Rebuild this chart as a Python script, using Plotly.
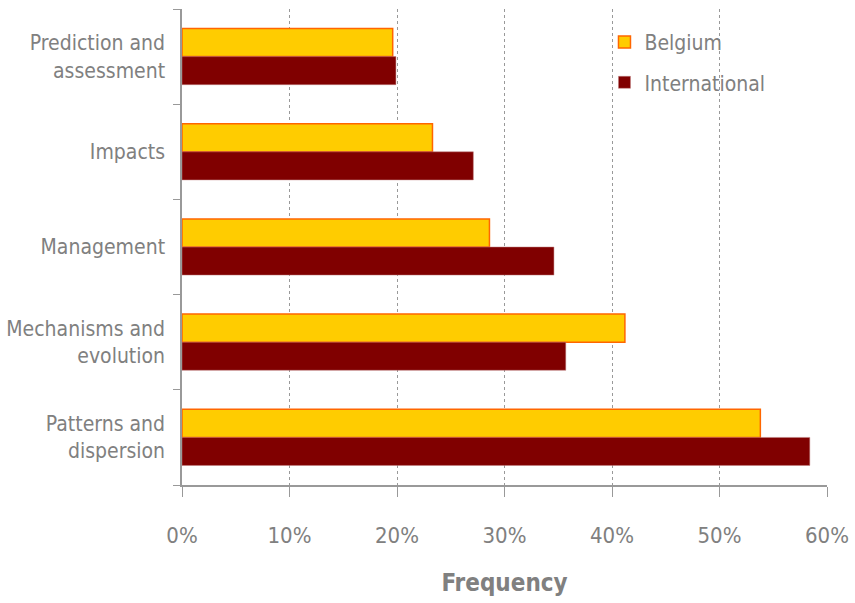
import plotly.graph_objects as go

categories = ["Prediction and<br>assessment", "Impacts", "Management",
              "Mechanisms and<br>evolution", "Patterns and<br>dispersion"]
belgium = [0.196, 0.233, 0.286, 0.412, 0.538]
international = [0.199, 0.271, 0.346, 0.357, 0.584]
xticks = [0, 0.1, 0.2, 0.3, 0.4, 0.5, 0.6]
xticklabels = ["0%", "10%", "20%", "30%", "40%", "50%", "60%"]

FONT = "DejaVu Sans Condensed, Liberation Sans, sans-serif"
GRAY = "#808080"

fig = go.Figure()
fig.add_trace(go.Bar(
    y=categories, x=belgium, name="Belgium", orientation="h", legendgroup="b",
    marker=dict(color="#FFCC00", line=dict(color="#FF6600", width=1.5)),
))
fig.add_trace(go.Bar(
    y=categories, x=international, name="International", orientation="h", legendgroup="i",
    marker=dict(color="#800000", line=dict(color="#C08080", width=0.5)),
))
fig.add_trace(go.Scatter(x=[0], y=[0], yaxis="y2", mode="markers",
                         marker=dict(opacity=0), showlegend=False, hoverinfo="skip"))

fig.update_layout(
    width=855, height=603,
    margin=dict(l=182, r=28, t=9, b=118, autoexpand=False),
    paper_bgcolor="white", plot_bgcolor="white",
    barmode="group", bargap=0.41, bargroupgap=0,
    font=dict(family=FONT, color=GRAY, size=21),
    legend=dict(x=0.655, y=0.973, xanchor="left", yanchor="top",
                traceorder="grouped", font=dict(size=21, color=GRAY),
                bgcolor="rgba(0,0,0,0)", itemwidth=30, tracegroupgap=10),
    xaxis=dict(range=[0, 0.6], tickvals=xticks, ticktext=xticklabels,
               showgrid=True, gridcolor="#999999", griddash="dot", gridwidth=1,
               showline=True, linecolor="#999999", linewidth=1.5,
               ticks="outside", ticklen=10, tickcolor="#999999",
               ticklabelstandoff=20, tickfont=dict(size=22, color=GRAY),
               zeroline=False, automargin=False,
               title=dict(text="<b>Frequency</b>", font=dict(size=24, color=GRAY), standoff=27)),
    yaxis=dict(autorange="reversed", showline=True, linecolor="#999999", linewidth=1.5,
               ticks="", ticklabelstandoff=11, tickfont=dict(size=21, color=GRAY),
               showgrid=False, automargin=False),
    yaxis2=dict(overlaying="y", range=[-0.5, 4.5], tickvals=[-0.5, 0.5, 1.5, 2.5, 3.5, 4.5],
                showticklabels=False, ticks="outside", ticklen=8, tickcolor="#999999",
                showgrid=False, zeroline=False, showline=False, side="left", automargin=False),
)

fig.write_html("out.html")
